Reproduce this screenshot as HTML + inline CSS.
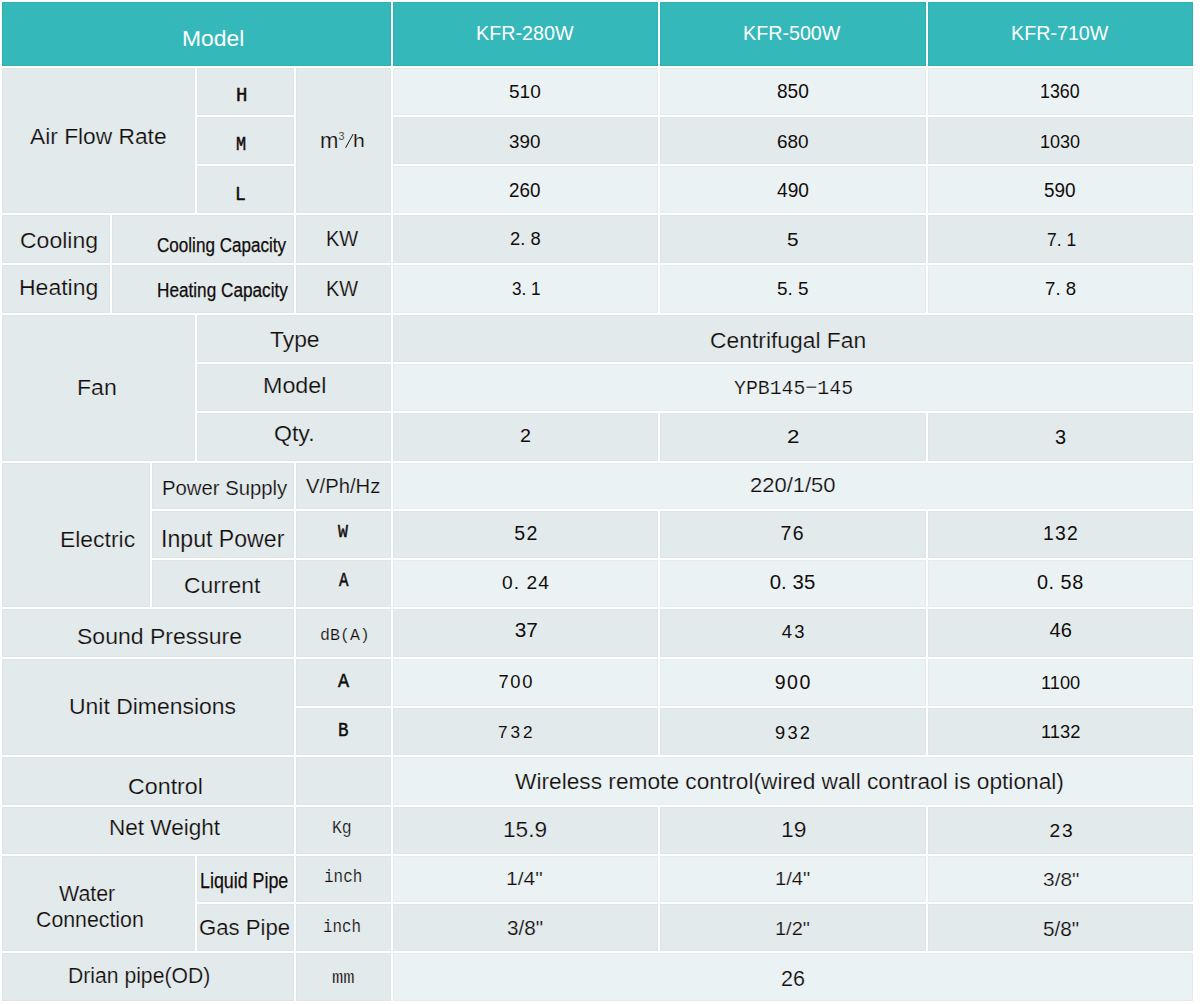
<!DOCTYPE html><html><head><meta charset="utf-8"><title>Specifications</title><style>
html,body{margin:0;padding:0;background:#fff}
body{width:1200px;height:1004px;overflow:hidden;position:relative}
.c{position:absolute;background:#E2EAEC;box-shadow:inset 0 0 0 1px #DDE5E7}
.h{background:#35B8BA;box-shadow:inset 0 0 0 1px #2DB2B3}
.l{background:#EAF2F4;box-shadow:inset 0 0 0 1px #E4ECEE}
.t{position:absolute;white-space:nowrap;color:#120D0B;transform-origin:0 0;line-height:1}
.w{color:#fff}
.s{font-family:"Liberation Sans",sans-serif}
.m{font-family:"Liberation Mono",monospace}
.d{font-family:"Liberation Sans",sans-serif}
.b{font-weight:bold}
.t{-webkit-text-stroke:0.2px #fff}
.b{-webkit-text-stroke-width:0}
.kg{-webkit-text-stroke-color:#E2EAEC}
.kl{-webkit-text-stroke-color:#EAF2F4}
.kh{-webkit-text-stroke-width:0}
.t.d{-webkit-text-stroke-width:0}
.t.th{-webkit-text-stroke:0.5px #120D0B}
.t.th2{-webkit-text-stroke:0.25px #120D0B}

</style></head><body>
<div class="c h" style="left:2px;top:2px;width:389px;height:64px"></div>
<div class="c h" style="left:393px;top:2px;width:265px;height:64px"></div>
<div class="c h" style="left:660px;top:2px;width:266px;height:64px"></div>
<div class="c h" style="left:928px;top:2px;width:265px;height:64px"></div>
<div class="c" style="left:2px;top:68px;width:193px;height:145px"></div>
<div class="c" style="left:197px;top:68px;width:97px;height:47px"></div>
<div class="c" style="left:197px;top:117px;width:97px;height:47px"></div>
<div class="c" style="left:197px;top:166px;width:97px;height:47px"></div>
<div class="c" style="left:296px;top:68px;width:95px;height:145px"></div>
<div class="c" style="left:2px;top:215px;width:108px;height:48px"></div>
<div class="c" style="left:112px;top:215px;width:182px;height:48px"></div>
<div class="c" style="left:296px;top:215px;width:95px;height:48px"></div>
<div class="c" style="left:2px;top:265px;width:108px;height:48px"></div>
<div class="c" style="left:112px;top:265px;width:182px;height:48px"></div>
<div class="c" style="left:296px;top:265px;width:95px;height:48px"></div>
<div class="c" style="left:2px;top:315px;width:193px;height:146px"></div>
<div class="c" style="left:197px;top:315px;width:194px;height:47px"></div>
<div class="c" style="left:197px;top:364px;width:194px;height:47px"></div>
<div class="c" style="left:197px;top:413px;width:194px;height:48px"></div>
<div class="c" style="left:2px;top:463px;width:148px;height:144px"></div>
<div class="c" style="left:152px;top:463px;width:142px;height:46px"></div>
<div class="c" style="left:296px;top:463px;width:95px;height:46px"></div>
<div class="c" style="left:152px;top:511px;width:142px;height:47px"></div>
<div class="c" style="left:296px;top:511px;width:95px;height:47px"></div>
<div class="c" style="left:152px;top:560px;width:142px;height:47px"></div>
<div class="c" style="left:296px;top:560px;width:95px;height:47px"></div>
<div class="c" style="left:2px;top:609px;width:292px;height:48px"></div>
<div class="c" style="left:296px;top:609px;width:95px;height:48px"></div>
<div class="c" style="left:2px;top:659px;width:292px;height:96px"></div>
<div class="c" style="left:296px;top:659px;width:95px;height:47px"></div>
<div class="c" style="left:296px;top:708px;width:95px;height:47px"></div>
<div class="c" style="left:2px;top:757px;width:292px;height:48px"></div>
<div class="c" style="left:296px;top:757px;width:95px;height:48px"></div>
<div class="c" style="left:2px;top:807px;width:292px;height:47px"></div>
<div class="c" style="left:296px;top:807px;width:95px;height:47px"></div>
<div class="c" style="left:2px;top:856px;width:193px;height:95px"></div>
<div class="c" style="left:197px;top:856px;width:97px;height:46px"></div>
<div class="c" style="left:296px;top:856px;width:95px;height:46px"></div>
<div class="c" style="left:197px;top:904px;width:97px;height:47px"></div>
<div class="c" style="left:296px;top:904px;width:95px;height:47px"></div>
<div class="c" style="left:2px;top:953px;width:292px;height:48px"></div>
<div class="c" style="left:296px;top:953px;width:95px;height:48px"></div>
<div class="c l" style="left:393px;top:68px;width:265px;height:47px"></div>
<div class="c l" style="left:660px;top:68px;width:266px;height:47px"></div>
<div class="c l" style="left:928px;top:68px;width:265px;height:47px"></div>
<div class="c" style="left:393px;top:117px;width:265px;height:47px"></div>
<div class="c" style="left:660px;top:117px;width:266px;height:47px"></div>
<div class="c" style="left:928px;top:117px;width:265px;height:47px"></div>
<div class="c l" style="left:393px;top:166px;width:265px;height:47px"></div>
<div class="c l" style="left:660px;top:166px;width:266px;height:47px"></div>
<div class="c l" style="left:928px;top:166px;width:265px;height:47px"></div>
<div class="c" style="left:393px;top:215px;width:265px;height:48px"></div>
<div class="c" style="left:660px;top:215px;width:266px;height:48px"></div>
<div class="c" style="left:928px;top:215px;width:265px;height:48px"></div>
<div class="c l" style="left:393px;top:265px;width:265px;height:48px"></div>
<div class="c l" style="left:660px;top:265px;width:266px;height:48px"></div>
<div class="c l" style="left:928px;top:265px;width:265px;height:48px"></div>
<div class="c" style="left:393px;top:315px;width:800px;height:47px"></div>
<div class="c l" style="left:393px;top:364px;width:800px;height:47px"></div>
<div class="c" style="left:393px;top:413px;width:265px;height:48px"></div>
<div class="c" style="left:660px;top:413px;width:266px;height:48px"></div>
<div class="c" style="left:928px;top:413px;width:265px;height:48px"></div>
<div class="c l" style="left:393px;top:463px;width:800px;height:46px"></div>
<div class="c" style="left:393px;top:511px;width:265px;height:47px"></div>
<div class="c" style="left:660px;top:511px;width:266px;height:47px"></div>
<div class="c" style="left:928px;top:511px;width:265px;height:47px"></div>
<div class="c l" style="left:393px;top:560px;width:265px;height:47px"></div>
<div class="c l" style="left:660px;top:560px;width:266px;height:47px"></div>
<div class="c l" style="left:928px;top:560px;width:265px;height:47px"></div>
<div class="c" style="left:393px;top:609px;width:265px;height:48px"></div>
<div class="c" style="left:660px;top:609px;width:266px;height:48px"></div>
<div class="c" style="left:928px;top:609px;width:265px;height:48px"></div>
<div class="c l" style="left:393px;top:659px;width:265px;height:47px"></div>
<div class="c l" style="left:660px;top:659px;width:266px;height:47px"></div>
<div class="c l" style="left:928px;top:659px;width:265px;height:47px"></div>
<div class="c" style="left:393px;top:708px;width:265px;height:47px"></div>
<div class="c" style="left:660px;top:708px;width:266px;height:47px"></div>
<div class="c" style="left:928px;top:708px;width:265px;height:47px"></div>
<div class="c l" style="left:393px;top:757px;width:800px;height:48px"></div>
<div class="c" style="left:393px;top:807px;width:265px;height:47px"></div>
<div class="c" style="left:660px;top:807px;width:266px;height:47px"></div>
<div class="c" style="left:928px;top:807px;width:265px;height:47px"></div>
<div class="c l" style="left:393px;top:856px;width:265px;height:46px"></div>
<div class="c l" style="left:660px;top:856px;width:266px;height:46px"></div>
<div class="c l" style="left:928px;top:856px;width:265px;height:46px"></div>
<div class="c" style="left:393px;top:904px;width:265px;height:47px"></div>
<div class="c" style="left:660px;top:904px;width:266px;height:47px"></div>
<div class="c" style="left:928px;top:904px;width:265px;height:47px"></div>
<div class="c l" style="left:393px;top:953px;width:800px;height:48px"></div>
<div class="t s w kh" style="left:182.00px;top:26.58px;font-size:22.77px;transform:scaleX(1.0039)">Model</div>
<div class="t s w kh" style="left:475.52px;top:23.65px;font-size:19.92px;transform:scaleX(0.9916)">KFR-280W</div>
<div class="t s w kh" style="left:742.73px;top:24.35px;font-size:19.56px;transform:scaleX(1.0075)">KFR-500W</div>
<div class="t s w kh" style="left:1011.33px;top:24.35px;font-size:19.56px;transform:scaleX(1.0075)">KFR-710W</div>
<div class="t s kg" style="left:30.41px;top:125.79px;font-size:22.26px;transform:scaleX(1.0225)">Air Flow Rate</div>
<div class="t m th kg" style="left:235.83px;top:86.11px;font-size:20.12px;transform:scaleX(0.9455)">H</div>
<div class="t m th kg" style="left:236.13px;top:136.00px;font-size:19.44px;transform:scaleX(0.8663)">M</div>
<div class="t m th kg" style="left:234.56px;top:185.00px;font-size:20.80px;transform:scaleX(0.8660)">L</div>
<div class="t s kg" style="left:319.95px;top:130.33px;font-size:21.15px;transform:scaleX(1.0452)">m</div>
<div class="t s kg" style="left:338.50px;top:130.89px;font-size:10.71px">3</div>
<div class="t s kg" style="left:352.88px;top:131.65px;font-size:18.67px;transform:scaleX(1.1384)">h</div>
<div class="t s kg" style="left:19.78px;top:230.50px;font-size:21.44px;transform:scaleX(1.0737)">Cooling</div>
<div class="t s th2 kg" style="left:157.33px;top:234.82px;font-size:20.62px;transform:scaleX(0.8285)">Cooling Capacity</div>
<div class="t s kg" style="left:326.13px;top:229.39px;font-size:21.43px;transform:scaleX(0.9347)">KW</div>
<div class="t s kg" style="left:19.00px;top:276.57px;font-size:21.87px;transform:scaleX(1.0520)">Heating</div>
<div class="t s th2 kg" style="left:157.06px;top:281.16px;font-size:19.74px;transform:scaleX(0.8709)">Heating Capacity</div>
<div class="t s kg" style="left:326.15px;top:278.02px;font-size:21.86px;transform:scaleX(0.9133)">KW</div>
<div class="t s kg" style="left:77.37px;top:377.23px;font-size:22.13px;transform:scaleX(1.0438)">Fan</div>
<div class="t s kg" style="left:269.98px;top:329.42px;font-size:22.15px;transform:scaleX(1.0325)">Type</div>
<div class="t s kg" style="left:262.58px;top:375.46px;font-size:22.53px;transform:scaleX(1.0345)">Model</div>
<div class="t s kg" style="left:273.85px;top:423.43px;font-size:22.14px;transform:scaleX(1.0428)">Qty.</div>
<div class="t s kg" style="left:59.69px;top:530.22px;font-size:21.44px;transform:scaleX(1.0687)">Electric</div>
<div class="t s kg" style="left:162.21px;top:477.60px;font-size:20.39px;transform:scaleX(0.9965)">Power Supply</div>
<div class="t s kg" style="left:306.36px;top:475.84px;font-size:20.35px;transform:scaleX(0.9965)">V/Ph/Hz</div>
<div class="t m th kg" style="left:337.81px;top:522.77px;font-size:19.20px;transform:scaleX(0.8590)">W</div>
<div class="t s kg" style="left:160.74px;top:527.10px;font-size:24.60px;transform:scaleX(0.9397)">Input Power</div>
<div class="t m th kg" style="left:338.55px;top:571.97px;font-size:19.67px;transform:scaleX(0.8011)">A</div>
<div class="t s kg" style="left:183.97px;top:575.65px;font-size:21.31px;transform:scaleX(1.0738)">Current</div>
<div class="t s kg" style="left:76.99px;top:625.51px;font-size:21.94px;transform:scaleX(1.0491)">Sound Pressure</div>
<div class="t m kg" style="left:319.50px;top:627.59px;font-size:16.89px;transform:scaleX(0.9844)">dB(A)</div>
<div class="t s kg" style="left:69.09px;top:695.86px;font-size:22.51px;transform:scaleX(1.0197)">Unit Dimensions</div>
<div class="t m th kg" style="left:338.39px;top:672.23px;font-size:20.96px;transform:scaleX(0.8819)">A</div>
<div class="t m th kg" style="left:337.72px;top:720.88px;font-size:20.49px;transform:scaleX(0.8549)">B</div>
<div class="t s kg" style="left:127.96px;top:774.57px;font-size:22.86px;transform:scaleX(1.0166)">Control</div>
<div class="t s kg" style="left:108.98px;top:818.13px;font-size:21.35px;transform:scaleX(1.0564)">Net Weight</div>
<div class="t m kg" style="left:332.07px;top:820.02px;font-size:17.47px;transform:scaleX(0.9405)">Kg</div>
<div class="t s kg" style="left:58.50px;top:883.01px;font-size:22.28px;transform:scaleX(0.9600)">Water</div>
<div class="t s kg" style="left:35.92px;top:907.57px;font-size:22.86px;transform:scaleX(0.9322)">Connection</div>
<div class="t s th2 kg" style="left:200.02px;top:869.84px;font-size:22.18px;transform:scaleX(0.8043)">Liquid Pipe</div>
<div class="t m kg" style="left:323.80px;top:867.56px;font-size:19.11px;transform:scaleX(0.8345)">inch</div>
<div class="t s kg" style="left:199.32px;top:915.90px;font-size:22.89px;transform:scaleX(0.9693)">Gas Pipe</div>
<div class="t m kg" style="left:323.27px;top:918.41px;font-size:18.80px;transform:scaleX(0.8440)">inch</div>
<div class="t s kg" style="left:68.17px;top:965.19px;font-size:22.06px;transform:scaleX(0.9592)">Drian pipe(OD)</div>
<div class="t m kg" style="left:332.40px;top:969.93px;font-size:18.58px;transform:scaleX(1.0149)">mm</div>
<div class="t d kl" style="left:509.04px;top:82.31px;font-size:19.15px;transform:scaleX(0.9946)">510</div>
<div class="t d kg" style="left:509.49px;top:132.90px;font-size:18.89px;transform:scaleX(0.9957)">390</div>
<div class="t d kl" style="left:509.07px;top:179.92px;font-size:20.33px;transform:scaleX(0.9259)">260</div>
<div class="t d kg" style="left:510.04px;top:230.13px;font-size:18.63px;transform:scaleX(0.9867)">2.&nbsp;8</div>
<div class="t d kl" style="left:512.06px;top:279.12px;font-size:19.15px;transform:scaleX(0.8966)">3.&nbsp;1</div>
<div class="t s kg" style="left:710.30px;top:330.05px;font-size:22.05px;transform:scaleX(1.0365)">Centrifugal Fan</div>
<div class="t m kl" style="left:733.96px;top:378.11px;font-size:21.06px;transform:scaleX(0.9425)">YPB145&minus;145</div>
<div class="t d kg" style="left:519.65px;top:427.28px;font-size:18.01px;transform:scaleX(1.0968)">2</div>
<div class="t s kl" style="left:749.72px;top:475.10px;font-size:20.86px;transform:scaleX(1.0527)">220/1/50</div>
<div class="t d ls kg" style="left:514.31px;top:524.35px;font-size:19.57px;letter-spacing:1.24px">52</div>
<div class="t d ls kl" style="left:502.00px;top:573.05px;font-size:19.21px;letter-spacing:1.05px">0.&nbsp;24</div>
<div class="t d ls kg" style="left:514.73px;top:620.37px;font-size:20.75px;letter-spacing:-0.12px">37</div>
<div class="t d ls kl" style="left:498.42px;top:673.40px;font-size:18.34px;letter-spacing:1.71px">700</div>
<div class="t d ls kg" style="left:498.06px;top:724.34px;font-size:17.21px;letter-spacing:2.89px">732</div>
<div class="t s kl" style="left:515.06px;top:771.00px;font-size:22.52px;transform:scaleX(1.0084)">Wireless remote control(wired wall contraol is optional)</div>
<div class="t s kg" style="left:502.65px;top:818.99px;font-size:22.35px;transform:scaleX(1.0125)">15.9</div>
<div class="t s kl" style="left:505.83px;top:870.14px;font-size:18.87px;transform:scaleX(1.1157)">1/4"</div>
<div class="t s kg" style="left:506.89px;top:918.53px;font-size:19.96px;transform:scaleX(1.0389)">3/8"</div>
<div class="t s kl" style="left:781.46px;top:967.94px;font-size:22.05px;transform:scaleX(0.9772)">26</div>
<div class="t d kl" style="left:776.83px;top:81.59px;font-size:19.76px;transform:scaleX(0.9661)">850</div>
<div class="t d kg" style="left:776.82px;top:132.71px;font-size:18.91px;transform:scaleX(1.0019)">680</div>
<div class="t d kl" style="left:776.97px;top:180.40px;font-size:20.13px;transform:scaleX(0.9516)">490</div>
<div class="t d kg" style="left:786.94px;top:229.54px;font-size:19.15px;transform:scaleX(1.0859)">5</div>
<div class="t d kl" style="left:777.20px;top:279.78px;font-size:18.62px;transform:scaleX(1.0162)">5.&nbsp;5</div>
<div class="t d kg" style="left:787.30px;top:428.31px;font-size:18.57px;transform:scaleX(1.2007)">2</div>
<div class="t d ls kg" style="left:780.56px;top:523.59px;font-size:19.44px;letter-spacing:1.31px">76</div>
<div class="t d ls kl" style="left:769.68px;top:571.88px;font-size:20.38px;letter-spacing:0.09px">0.&nbsp;35</div>
<div class="t d ls kg" style="left:781.82px;top:622.72px;font-size:18.48px;letter-spacing:2.05px">43</div>
<div class="t d ls kl" style="left:774.76px;top:673.13px;font-size:19.57px;letter-spacing:1.48px">900</div>
<div class="t d ls kg" style="left:775.06px;top:723.70px;font-size:18.26px;letter-spacing:2.25px">932</div>
<div class="t s kg" style="left:780.84px;top:818.62px;font-size:22.35px;transform:scaleX(1.0216)">19</div>
<div class="t s kl" style="left:774.95px;top:869.09px;font-size:19.25px;transform:scaleX(1.0507)">1/4"</div>
<div class="t s kg" style="left:774.97px;top:919.52px;font-size:18.59px;transform:scaleX(1.0759)">1/2"</div>
<div class="t d kl" style="left:1040.14px;top:81.59px;font-size:19.76px;transform:scaleX(0.9014)">1360</div>
<div class="t d kg" style="left:1040.12px;top:132.31px;font-size:19.15px;transform:scaleX(0.9421)">1030</div>
<div class="t d kl" style="left:1044.25px;top:181.27px;font-size:19.43px;transform:scaleX(0.9752)">590</div>
<div class="t d kg" style="left:1047.16px;top:230.59px;font-size:18.48px;transform:scaleX(0.9443)">7.&nbsp;1</div>
<div class="t d kl" style="left:1045.06px;top:279.98px;font-size:18.60px">7.&nbsp;8</div>
<div class="t d kg" style="left:1055.01px;top:426.76px;font-size:20.29px;transform:scaleX(0.9819)">3</div>
<div class="t d ls kg" style="left:1043.08px;top:524.05px;font-size:19.39px;letter-spacing:1.13px">132</div>
<div class="t d ls kl" style="left:1037.01px;top:572.56px;font-size:19.87px;letter-spacing:0.51px">0.&nbsp;58</div>
<div class="t d ls kg" style="left:1049.42px;top:619.95px;font-size:20.07px;letter-spacing:0.09px">46</div>
<div class="t d kl" style="left:1040.99px;top:674.00px;font-size:18.26px;transform:scaleX(0.9984)">1100</div>
<div class="t d kg" style="left:1041.29px;top:723.78px;font-size:17.86px;transform:scaleX(1.0288)">1132</div>
<div class="t d ls kg" style="left:1049.43px;top:821.05px;font-size:19.21px;letter-spacing:2.03px">23</div>
<div class="t s kl" style="left:1042.83px;top:871.48px;font-size:18.17px;transform:scaleX(1.1525)">3/8"</div>
<div class="t s kg" style="left:1042.89px;top:918.69px;font-size:20.68px;transform:scaleX(1.0024)">5/8"</div>
<svg style="position:absolute;left:340px;top:128px" width="20" height="25"><line x1="5.6" y1="19.8" x2="13.2" y2="6" stroke="#1a1412" stroke-width="1.0"/></svg>
</body></html>
